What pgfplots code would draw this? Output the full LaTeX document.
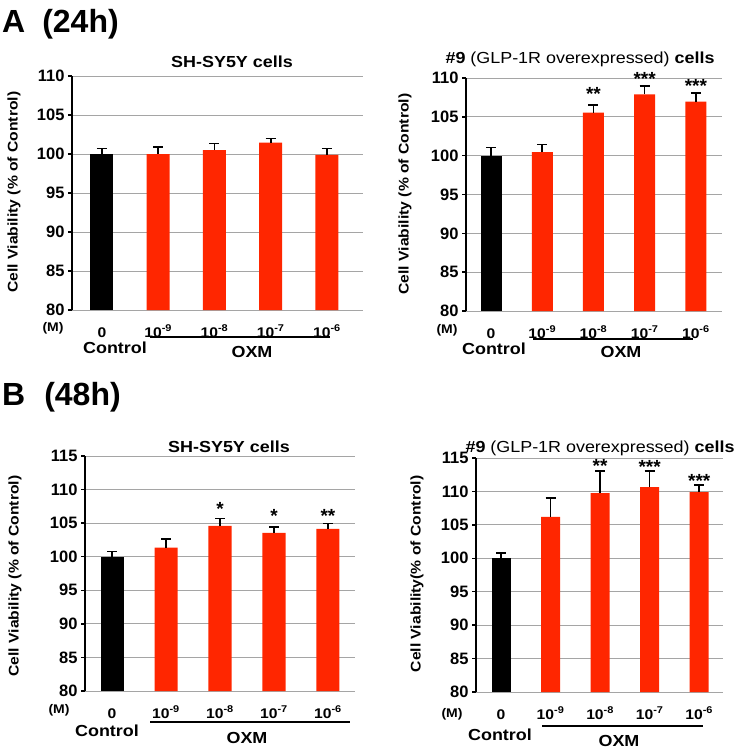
\documentclass[border=0pt]{standalone}
\usepackage{fontspec}
\setmainfont{Liberation Sans}
\newfontfamily\wide[FakeStretch=1.12]{Liberation Sans}
\usepackage{pgfplots}
\pgfplotsset{compat=1.18}

\definecolor{oxmred}{RGB}{255,38,0}
\definecolor{gridgray}{RGB}{165,165,165}
\newcommand{\fs}[1]{\fontsize{#1}{#1}\selectfont}

\pgfplotsset{
  viab/.style={
    scale only axis,
    anchor=south west,
    axis y line=left, axis x line=bottom,
    axis line style={-},
    y axis line style={black, line width=2pt},
    x axis line style={gridgray, line width=0.8pt},
    ymin=80,
    ymajorgrids, grid style={gridgray, line width=0.8pt},
    tick align=outside, major tick length=4pt,
    ytick style={black, line width=1.5pt},
    xtick style={draw=none},
    xtick={0,...,4},
    xticklabels={0,10\textsuperscript{-9},10\textsuperscript{-8},10\textsuperscript{-7},10\textsuperscript{-6}},
    xticklabel style={font=\wide\bfseries\fs{14}, anchor=base, yshift=-23pt},
    yticklabel style={font=\bfseries\fs{16.5}},
    /pgf/number format/assume math mode=true,
    clip=false,
  },
  errs/.style={
    error bars/y dir=plus, error bars/y explicit,
    error bars/error bar style={draw=black, solid, line width=1.6pt},
    error bars/error mark options={rotate=90, draw=black, solid, line width=1.6pt, mark size=5pt},
  },
  ctrl/.style={ybar, bar shift=0pt, bar width=#1, fill=black, draw=none, errs},
  oxm/.style={ybar, bar shift=0pt, bar width=#1, fill=oxmred, draw=none, errs},
  stars/.style={only marks, mark=none, black, nodes near coords, point meta=explicit symbolic,
    every node near coord/.style={anchor=base, font=\bfseries\fs{19}, black}},
}

\begin{document}
\begin{tikzpicture}
\useasboundingbox (0,0) rectangle (741pt,-750pt);

% ---------- A (24h), SH-SY5Y
\begin{axis}[viab, at={(72pt,-310pt)}, width=291pt, height=234pt,
  xmin=-0.533, xmax=4.64, ymax=110, ytick={80,85,...,110}]
\addplot[ctrl=23pt] coordinates {(0,100) +- (0,0.7)};
\addplot[oxm=23pt] coordinates {(1,100.0) +- (0,0.9) (2,100.5) +- (0,0.85) (3,101.45) +- (0,0.55) (4,99.9) +- (0,0.8)};
\end{axis}

% ---------- A (24h), #9
\begin{axis}[viab, at={(466pt,-311pt)}, width=256pt, height=233pt,
  xmin=-0.49, xmax=4.51, ymax=110, ytick={80,85,...,110}]
\addplot[ctrl=21pt] coordinates {(0,100) +- (0,1.05)};
\addplot[oxm=21pt] coordinates {(1,100.45) +- (0,1.0) (2,105.55) +- (0,1.0) (3,107.9) +- (0,1.1) (4,106.95) +- (0,1.1)};
\addplot[stars] coordinates {(2,107.1) [**] (3,109.0) [***] (4,108.1) [***]};
\end{axis}

% ---------- B (48h), SH-SY5Y
\begin{axis}[viab, at={(85pt,-691pt)}, width=270pt, height=235pt,
  xmin=-0.5, xmax=4.5, ymax=115, ytick={80,85,...,115}]
\addplot[ctrl=23pt] coordinates {(0,100) +- (0,0.75)};
\addplot[oxm=23pt] coordinates {(1,101.35) +- (0,1.3) (2,104.6) +- (0,1.1) (3,103.55) +- (0,0.9) (4,104.15) +- (0,0.8)};
\addplot[stars] coordinates {(2,106.1) [*] (3,105.1) [*] (4,105.1) [**]};
\end{axis}

% ---------- B (48h), #9
\begin{axis}[viab, at={(476pt,-692pt)}, width=247pt, height=234pt,
  xmin=-0.505, xmax=4.48, ymax=115, ytick={80,85,...,115}]
\addplot[ctrl=19pt] coordinates {(0,100) +- (0,0.75)};
\addplot[oxm=19pt] coordinates {(1,106.2) +- (0,2.8) (2,109.75) +- (0,3.3) (3,110.65) +- (0,2.4) (4,109.9) +- (0,1.05)};
\addplot[stars] coordinates {(2,112.9) [**] (3,112.75) [***] (4,110.65) [***]};
\end{axis}

% panel labels
\node[anchor=base west, font=\bfseries\fs{32}, inner sep=0] at (2pt,-32pt) {A\hspace{17pt}(24h)};
\node[anchor=base west, font=\bfseries\fs{32}, inner sep=0] at (2pt,-405pt) {B\hspace{19pt}(48h)};

% titles
\begin{scope}[every node/.style={anchor=base, font=\wide\fs{16}}]
\node at (232pt,-67pt) {\bfseries SH-SY5Y cells};
\node at (580pt,-63pt) {\textbf{\#9} (GLP-1R overexpressed) \textbf{cells}};
\node at (229pt,-452pt) {\bfseries SH-SY5Y cells};
\node at (600pt,-452pt) {\textbf{\#9} (GLP-1R overexpressed) \textbf{cells}};
\end{scope}

% y labels
\begin{scope}[every node/.style={rotate=90, font=\wide\bfseries\fs{14}}]
\node at (14pt,-192pt) {Cell Viability (\% of Control)};
\node at (405pt,-194pt) {Cell Viability (\% of Control)};
\node at (15pt,-576pt) {Cell Viability (\% of Control)};
\node at (417pt,-574pt) {Cell Viability(\% of Control)};
\end{scope}

% (M), Control, OXM
\begin{scope}[every node/.style={anchor=base, font=\wide\bfseries\fs{16}, inner sep=1pt}]
\node[font=\wide\bfseries\fs{12.5}] at (53pt,-331pt) {(M)};
\node at (115pt,-353pt) {Control};
\node at (252pt,-357pt) {OXM};
\draw[line width=1.3pt] (150pt,-337pt) -- (330pt,-337pt);

\node[font=\wide\bfseries\fs{12.5}] at (447pt,-333pt) {(M)};
\node at (494pt,-354pt) {Control};
\node at (621pt,-357pt) {OXM};
\draw[line width=1.3pt] (533pt,-339pt) -- (693pt,-339pt);

\node[font=\wide\bfseries\fs{12.5}] at (59pt,-713pt) {(M)};
\node at (107pt,-736pt) {Control};
\node at (247pt,-743pt) {OXM};
\draw[line width=1.3pt] (150pt,-722pt) -- (350pt,-722pt);

\node[font=\wide\bfseries\fs{12.5}] at (452pt,-717pt) {(M)};
\node at (500pt,-740pt) {Control};
\node at (619pt,-746pt) {OXM};
\draw[line width=1.3pt] (542pt,-726pt) -- (703pt,-726pt);
\end{scope}
\end{tikzpicture}
\end{document}
